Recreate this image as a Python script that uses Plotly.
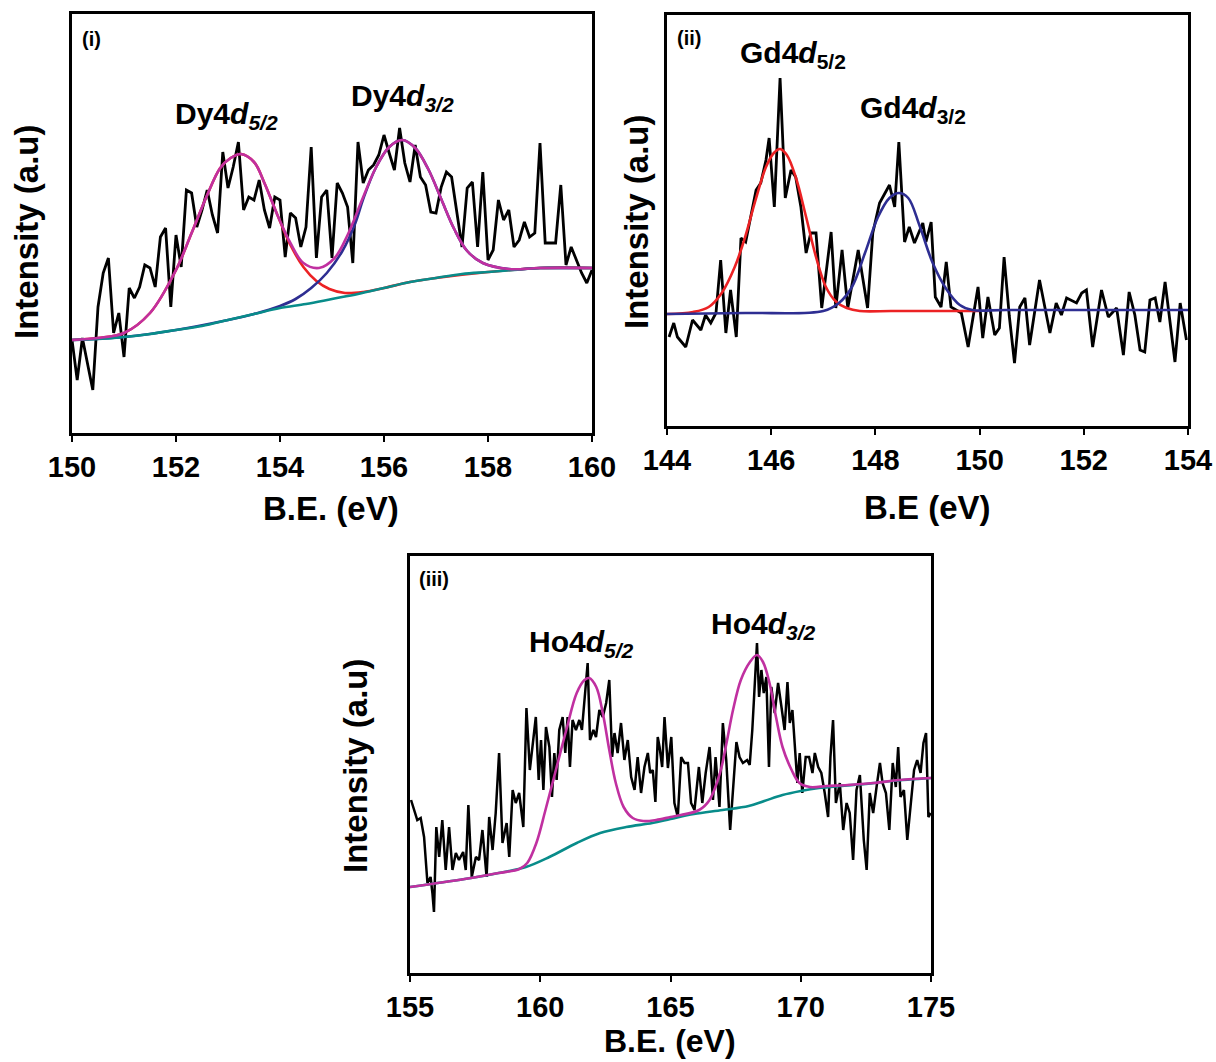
import plotly.graph_objects as go

# ---------------- Panel (i): Dy 4d ----------------
dy_be = [150.0, 150.1, 150.2, 150.3, 150.4, 150.5, 150.6, 150.7, 150.8, 150.9,
         151.0, 151.1, 151.2, 151.3, 151.4, 151.5, 151.6, 151.7, 151.8, 151.9,
         152.0, 152.1, 152.2, 152.3, 152.4, 152.5, 152.6, 152.7, 152.8, 152.9,
         153.0, 153.1, 153.2, 153.3, 153.4, 153.5, 153.6, 153.7, 153.8, 153.9,
         154.0, 154.1, 154.2, 154.3, 154.4, 154.5, 154.6, 154.7, 154.8, 154.9,
         155.0, 155.1, 155.2, 155.3, 155.4, 155.5, 155.6, 155.7, 155.8, 155.9,
         156.0, 156.1, 156.2, 156.3, 156.4, 156.5, 156.6, 156.7, 156.8, 156.9,
         157.0, 157.1, 157.2, 157.3, 157.4, 157.5, 157.6, 157.7, 157.8, 157.9,
         158.0, 158.1, 158.2, 158.3, 158.4, 158.5, 158.6, 158.7, 158.8, 158.9,
         159.0, 159.1, 159.2, 159.3, 159.4, 159.5, 159.6, 159.7, 159.8, 159.9,
         160.0]
dy_int = [93, 53, 95, 70, 43, 126, 160, 175, 100, 120,
          76, 145, 135, 146, 168, 165, 146, 196, 205, 126,
          198, 166, 243, 240, 206, 223, 243, 218, 200, 281,
          245, 266, 291, 223, 236, 233, 253, 223, 205, 236,
          233, 176, 220, 215, 186, 206, 286, 175, 236, 243,
          175, 250, 240, 226, 170, 291, 250, 263, 268, 278,
          298, 280, 263, 305, 270, 251, 288, 256, 248, 221,
          220, 246, 261, 256, 220, 186, 245, 251, 186, 261,
          173, 183, 233, 213, 223, 186, 193, 211, 196, 200,
          290, 190, 190, 190, 248, 168, 186, 173, 160, 150,
          163]

dy_bg_be = [150.0, 150.5, 151.0, 151.5, 152.0, 152.5, 153.0, 153.5, 154.0, 154.5,
            155.0, 155.5, 156.0, 156.5, 157.0, 157.5, 158.0, 158.5, 159.0, 159.5, 160.0]
dy_bg = [93, 94, 96, 99, 103, 107, 113, 119, 125, 129,
         134, 139, 145, 151, 155, 159, 161, 163, 165, 165, 165]

dy_env_be = [150.0, 150.5, 151.0, 151.5, 152.0, 152.3, 152.6, 152.85, 153.05, 153.25,
             153.5, 153.7, 153.95, 154.2, 154.45, 154.75, 155.05, 155.3, 155.6, 155.85,
             156.1, 156.35, 156.6, 156.85, 157.1, 157.35, 157.6, 157.9, 158.4, 159.0, 160.0]
dy_env = [93, 95, 100, 120, 163, 200, 238, 265, 275, 279,
          271, 250, 218, 190, 170, 165, 175, 198, 236, 266,
          286, 293, 285, 264, 234, 204, 182, 170, 164, 165, 165]

dy_p1_be = [150.0, 150.5, 151.0, 151.5, 152.0, 152.3, 152.6, 152.85, 153.05, 153.25,
            153.5, 153.7, 153.95, 154.2, 154.45, 154.7, 154.95, 155.25, 155.6, 156.0,
            156.5, 157.0, 158.0, 159.0, 160.0]
dy_p1 = [93, 95, 100, 120, 163, 200, 238, 265, 275, 279,
         271, 250, 218, 188, 166, 152, 144, 140, 141, 145,
         151, 155, 161, 165, 165]

dy_p2_be = [150.0, 151.0, 152.0, 153.0, 153.5, 154.0, 154.3, 154.6, 154.9, 155.2,
            155.45, 155.6, 155.85, 156.1, 156.35, 156.6, 156.85, 157.1, 157.35, 157.6,
            157.9, 158.4, 159.0, 160.0]
dy_p2 = [93, 96, 103, 113, 119, 127, 134, 145, 160, 182,
         210, 234, 266, 286, 293, 285, 264, 234, 204, 182,
         170, 164, 165, 165]

# ---------------- Panel (ii): Gd 4d ----------------
gd_be = [144.04, 144.13, 144.2, 144.36, 144.49, 144.65, 144.74, 144.84, 144.94, 145.03,
         145.13, 145.22, 145.33, 145.42, 145.51, 145.61, 145.71, 145.8, 145.9, 145.96,
         146.06, 146.17, 146.27, 146.38, 146.47, 146.57, 146.67, 146.76, 146.86, 146.97,
         147.15, 147.24, 147.36, 147.47, 147.67, 147.85, 147.95, 148.08, 148.27, 148.37,
         148.45, 148.56, 148.65, 148.75, 148.91, 148.97, 149.07, 149.15, 149.26, 149.36,
         149.45, 149.55, 149.65, 149.78, 149.97, 150.06, 150.16, 150.29, 150.38, 150.47,
         150.57, 150.67, 150.77, 150.87, 150.96, 151.15, 151.35, 151.47, 151.57, 151.67,
         151.76, 151.86, 151.96, 152.05, 152.17, 152.34, 152.47, 152.63, 152.76, 152.87,
         152.98, 153.08, 153.17, 153.27, 153.37, 153.46, 153.56, 153.75, 153.85, 153.97]
gd_int = [89, 103, 89, 79, 106, 96, 111, 103, 113, 166,
          93, 136, 89, 188, 184, 209, 236, 243, 266, 288,
          219, 348, 228, 256, 249, 219, 173, 193, 193, 118,
          194, 118, 176, 118, 176, 118, 193, 223, 241, 219,
          284, 184, 199, 183, 203, 184, 204, 129, 119, 164,
          119, 116, 113, 79, 139, 88, 129, 91, 98, 169,
          110, 63, 119, 128, 81, 146, 93, 123, 111, 128,
          126, 123, 133, 136, 79, 136, 109, 118, 71, 134,
          111, 76, 74, 126, 128, 104, 144, 64, 123, 86]

gd_p1_be = [144.0, 144.5, 144.8, 145.05, 145.3, 145.5, 145.7, 145.9, 146.05, 146.17,
            146.3, 146.47, 146.67, 146.86, 147.05, 147.25, 147.45, 147.7, 148.3, 149.0, 150.0]
gd_p1 = [112, 114, 119, 133, 159, 189, 226, 259, 273, 277,
         271, 249, 209, 169, 139, 124, 118, 115, 115, 115, 115]

gd_p2_be = [144.0, 145.5, 147.0, 147.3, 147.55, 147.8, 148.05, 148.27, 148.45, 148.63,
            148.85, 149.1, 149.36, 149.62, 149.86, 150.5, 154.0]
gd_p2 = [112, 113, 115, 123, 139, 173, 209, 228, 233, 228,
         200, 163, 137, 121, 116, 116, 116]

# ---------------- Panel (iii): Ho 4d ----------------
ho_be = [155.04, 155.15, 155.28, 155.41, 155.54, 155.67, 155.79, 155.86, 155.92, 156.01,
         156.12, 156.24, 156.37, 156.5, 156.63, 156.76, 156.88, 157.04, 157.14, 157.24,
         157.37, 157.53, 157.65, 157.78, 157.94, 158.04, 158.17, 158.29, 158.42, 158.55,
         158.71, 158.81, 158.94, 159.06, 159.19, 159.35, 159.47, 159.6, 159.73, 159.83,
         159.94, 160.03, 160.12, 160.22, 160.35, 160.45, 160.54, 160.63, 160.73, 160.86,
         160.96, 161.05, 161.14, 161.24, 161.37, 161.5, 161.6, 161.71, 161.82, 161.91,
         162.04, 162.14, 162.27, 162.4, 162.53, 162.65, 162.76, 162.85, 162.97, 163.1,
         163.23, 163.36, 163.49, 163.62, 163.74, 163.87, 164.0, 164.13, 164.22, 164.32,
         164.42, 164.51, 164.58, 164.68, 164.77, 164.9, 165.03, 165.15, 165.28, 165.41,
         165.54, 165.67, 165.79, 165.92, 166.09, 166.22, 166.35, 166.5, 166.63, 166.73,
         166.88, 167.01, 167.14, 167.29, 167.4, 167.53, 167.65, 167.78, 167.94, 168.04,
         168.14, 168.23, 168.32, 168.4, 168.49, 168.58, 168.68, 168.78, 168.87, 169.0,
         169.13, 169.26, 169.38, 169.49, 169.58, 169.68, 169.77, 169.87, 169.96, 170.06,
         170.19, 170.32, 170.45, 170.54, 170.67, 170.79, 170.92, 171.05, 171.14, 171.24,
         171.35, 171.5, 171.63, 171.76, 171.88, 172.01, 172.14, 172.27, 172.42, 172.53,
         172.65, 172.78, 172.91, 173.04, 173.14, 173.27, 173.4, 173.53, 173.65, 173.74,
         173.83, 173.96, 174.09, 174.22, 174.35, 174.47, 174.6, 174.71, 174.81, 174.9, 174.99]
ho_int = [173, 163, 153, 155, 136, 90, 96, 80, 61, 146,
          116, 153, 103, 146, 103, 120, 113, 121, 103, 168,
          96, 116, 113, 143, 96, 156, 123, 160, 220, 130,
          150, 116, 183, 170, 180, 146, 265, 203, 233, 256,
          193, 233, 183, 246, 226, 176, 220, 193, 243, 256,
          220, 256, 206, 253, 243, 253, 243, 276, 310, 233,
          243, 236, 263, 256, 270, 293, 216, 240, 220, 250,
          213, 233, 196, 183, 216, 180, 206, 220, 200, 203,
          171, 236, 226, 206, 256, 205, 236, 170, 156, 216,
          210, 210, 170, 163, 206, 170, 200, 226, 173, 216,
          166, 250, 213, 143, 183, 231, 216, 210, 213, 208,
          243, 281, 330, 276, 303, 280, 296, 206, 286, 260,
          290, 266, 243, 291, 250, 263, 226, 190, 220, 180,
          216, 216, 200, 220, 206, 200, 180, 156, 216, 253,
          170, 190, 143, 170, 160, 113, 183, 198, 133, 103,
          180, 160, 186, 210, 190, 180, 143, 210, 186, 226,
          176, 183, 133, 166, 203, 213, 200, 230, 240, 156, 160]

ho_bg_be = [155.0, 157.1, 158.4, 159.45, 160.35, 161.4, 162.3, 163.3, 164.3, 165.0,
            165.9, 167.0, 168.0, 168.6, 169.3, 170.0, 170.7, 171.5, 172.5, 173.5, 175.0]
ho_bg = [86, 94, 100, 106, 116, 130, 140, 146, 150, 154,
         159, 163, 167, 172, 178, 182, 185, 187, 189, 192, 195]

ho_env_be = [155.0, 157.1, 158.4, 159.2, 159.5, 159.85, 160.2, 160.6, 161.0, 161.4,
             161.7, 161.88, 162.15, 162.4, 162.65, 162.9, 163.2, 163.55, 163.95, 164.45,
             165.0, 165.4, 166.1, 166.5, 166.9, 167.15, 167.4, 167.7, 168.05, 168.32,
             168.55, 168.8, 169.05, 169.3, 169.65, 169.95, 170.35, 171.0, 171.8, 172.8,
             173.8, 175.0]
ho_env = [86, 94, 100, 104, 110, 130, 163, 203, 243, 280,
          293, 295, 286, 260, 223, 190, 166, 155, 152, 153,
          156, 158, 163, 173, 200, 230, 263, 293, 311, 318,
          311, 290, 256, 226, 203, 190, 186, 187, 188, 190,
          193, 195]

# ---------------- styling ----------------
FONT = "Liberation Sans, Arial, Helvetica, sans-serif"
BLACK = "#000000"
MAGENTA = "rgb(192, 48, 160)"
RED = "rgb(236, 34, 36)"
BLUE = "rgb(46, 46, 146)"
TEAL = "rgb(8, 140, 138)"

fig = go.Figure()


def add_line(x, y, color, width, xa, ya, shape="linear"):
    line = dict(color=color, width=width, shape=shape)
    if shape == "spline":
        line["smoothing"] = 1.0
    fig.add_trace(go.Scatter(x=x, y=y, mode="lines", line=line,
                             xaxis=xa, yaxis=ya, showlegend=False, hoverinfo="skip"))


# panel (i)
add_line(dy_be, dy_int, BLACK, 2.8, "x", "y")
add_line(dy_p1_be, dy_p1, RED, 2.6, "x", "y", "spline")
add_line(dy_p2_be, dy_p2, BLUE, 2.6, "x", "y", "spline")
add_line(dy_bg_be, dy_bg, TEAL, 2.6, "x", "y", "spline")
add_line(dy_env_be, dy_env, MAGENTA, 2.6, "x", "y", "spline")

# panel (ii)
add_line(gd_be, gd_int, BLACK, 2.8, "x2", "y2")
add_line(gd_p1_be, gd_p1, RED, 2.6, "x2", "y2", "spline")
add_line(gd_p2_be, gd_p2, BLUE, 2.6, "x2", "y2", "spline")

# panel (iii)
add_line(ho_be, ho_int, BLACK, 2.5, "x3", "y3")
add_line(ho_bg_be, ho_bg, TEAL, 2.6, "x3", "y3", "spline")
add_line(ho_env_be, ho_env, MAGENTA, 2.6, "x3", "y3", "spline")

W, H = 1216, 1062


def xdom(l, r):
    return [l / W, r / W]


def ydom(t, b):
    return [1 - b / H, 1 - t / H]


def xax(dom, rng, ticks, anchor):
    return dict(domain=dom, range=rng, tickvals=ticks, ticktext=[str(t) for t in ticks],
                ticks="outside", ticklen=6, tickwidth=2.2, tickcolor=BLACK,
                showline=True, mirror=True, linewidth=2.6, linecolor=BLACK,
                showgrid=False, zeroline=False, anchor=anchor,
                tickfont=dict(family=FONT, size=29, color=BLACK, weight="bold"))


def yax(dom, rng, anchor):
    return dict(domain=dom, range=rng, showticklabels=False, ticks="",
                showline=True, mirror=True, linewidth=2.6, linecolor=BLACK,
                showgrid=False, zeroline=False, anchor=anchor)


fig.update_layout(
    width=W, height=H, autosize=False,
    margin=dict(l=0, r=0, t=0, b=0, pad=0, autoexpand=False),
    paper_bgcolor="white", plot_bgcolor="white",
    xaxis=xax(xdom(72, 592), [150, 160], [150, 152, 154, 156, 158, 160], "y"),
    yaxis=yax(ydom(14, 433), [0, 419], "x"),
    xaxis2=xax(xdom(667, 1188), [144, 154], [144, 146, 148, 150, 152, 154], "y2"),
    yaxis2=yax(ydom(15, 426), [0, 411], "x2"),
    xaxis3=xax(xdom(410, 931), [155, 175], [155, 160, 165, 170, 175], "y3"),
    yaxis3=yax(ydom(556, 973), [0, 417], "x3"),
)


def ann(text, px, py, size, angle=0):
    fig.add_annotation(text=text, x=px / W, y=1 - py / H,
                       xref="paper", yref="paper",
                       xanchor="center", yanchor="middle", showarrow=False, textangle=angle,
                       font=dict(family=FONT, size=size, color=BLACK, weight="bold"))


# axis titles
ann("Intensity (a.u)", 26, 232, 33, -90)
ann("Intensity (a.u)", 637, 222, 33, -90)
ann("Intensity (a.u)", 355, 766, 33, -90)
ann("B.E. (eV)", 331, 508, 33)
ann("B.E (eV)", 927, 507, 33)
ann("B.E. (eV)", 670, 1041, 32)

# panel tags
ann("(i)", 91, 39, 20)
ann("(ii)", 689, 38, 20)
ann("(iii)", 434, 579, 20)

# peak labels
ann("Dy4<i>d</i><sub><i>5/2</i></sub>", 226, 115, 30)
ann("Dy4<i>d</i><sub><i>3/2</i></sub>", 402, 98, 30)
ann("Gd4<i>d</i><sub>5/2</sub>", 793, 55, 30)
ann("Gd4<i>d</i><sub>3/2</sub>", 913, 110, 30)
ann("Ho4<i>d</i><sub><i>5/2</i></sub>", 581, 643, 30)
ann("Ho4<i>d</i><sub><i>3/2</i></sub>", 763, 625, 30)

# place the figure at the page origin so it exactly fills the 1216x1062 window
fig.write_html("out.html", config={"displayModeBar": False},
               post_script="document.body.style.margin='0px';")
